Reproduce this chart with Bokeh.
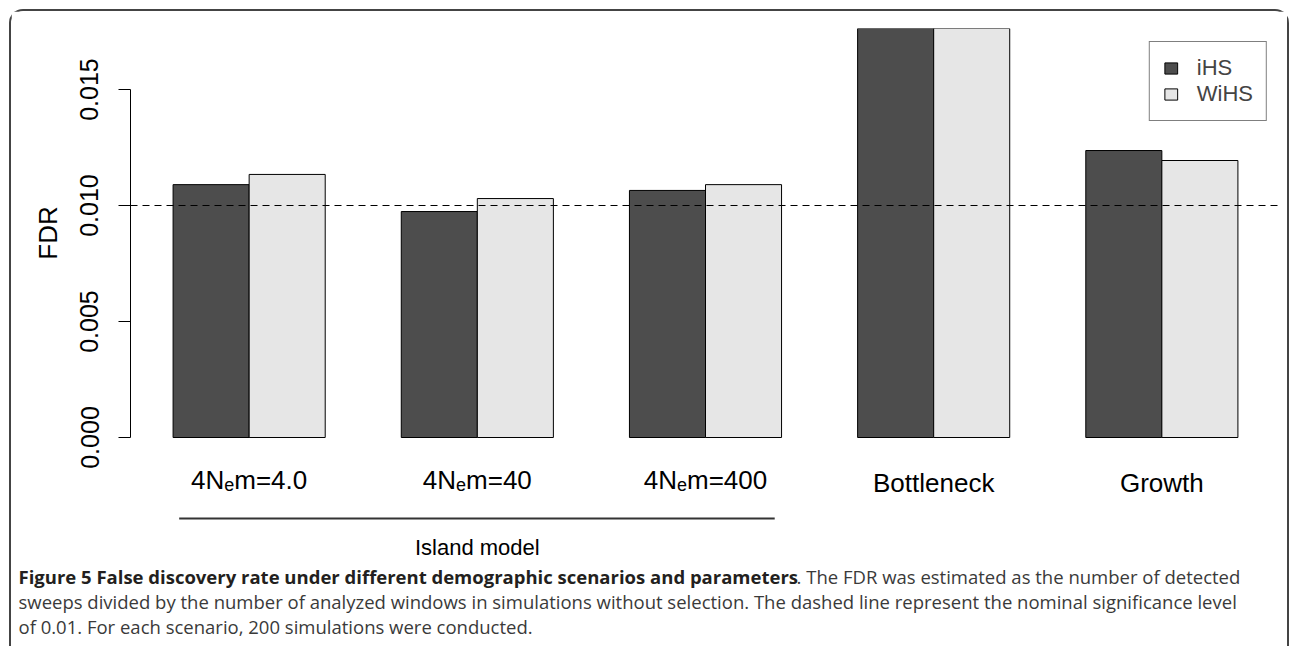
from bokeh.plotting import figure
from bokeh.layouts import column, row
from bokeh.models import (Range1d, FixedTicker, Span, Legend, LegendItem, Title,
                          ColumnDataSource, PrintfTickFormatter)
from bokeh.core.properties import value
from bokeh.embed import file_html
from bokeh.resources import INLINE

# ---------------- data ----------------
scenarios = ["4Nem=4.0", "4Nem=40", "4Nem=400", "Bottleneck", "Growth"]
label_prefix = ["4N", "4N", "4N", "Bottleneck", "Growth"]
label_sub = ["e", "e", "e", "", ""]
label_suffix = ["m=4.0", "m=40", "m=400", "", ""]
ihs = [0.01090, 0.00974, 0.01065, 0.01763, 0.01237]
wihs = [0.01134, 0.01030, 0.01090, 0.01763, 0.01194]
series_names = ["iHS", "WiHS"]
y_ticks = [0.000, 0.005, 0.010, 0.015]
y_title = "FDR"
nominal_level = 0.01
island_groups = 3
group_title = "Island model"
caption_bold = "Figure 5 False discovery rate under different demographic scenarios and parameters"
caption_lines = [
    ". The FDR was estimated as the number of detected",
    "sweeps divided by the number of analyzed windows in simulations without selection. The dashed line represent the nominal significance level",
    "of 0.01. For each scenario, 200 simulations were conducted.",
]

# ---------------- geometry (content origin on the page = 11, 11) ----------------
ORG = 11
W = 1276
PAGE_TOP, PAGE_ZERO, PAGE_SPLIT = 28, 437, 505   # frame top, y=0 line, bottom of main panel
H1 = PAGE_SPLIT - ORG
H2 = 646 - PAGE_SPLIT
L, R, T, B = 119, 7, PAGE_TOP - ORG, 0
FW = W - L - R
FONT = "Liberation Sans"
CAP_FONT = "Open Sans"

n = len(scenarios)
xl, xr = 1.0, 3.0 * n
pad = 0.04 * (xr - xl)
x0, x1 = xl - pad, xr + pad
y1 = max(ihs + wihs)
per_px = y1 / (PAGE_ZERO - PAGE_TOP)
y0 = -(PAGE_SPLIT - PAGE_ZERO) * per_px


def dx(px):
    return x0 + (px - L) / FW * (x1 - x0)


def dy(page_y):
    return -(page_y - PAGE_ZERO) * per_px


centers = [2.0 + 3.0 * i for i in range(n)]
src = ColumnDataSource(dict(
    x1=[c - 0.5 for c in centers], x2=[c + 0.5 for c in centers],
    ihs=ihs, wihs=wihs,
))

# ---------------- main chart ----------------
p = figure(width=W, height=H1, output_backend="svg", toolbar_location=None,
           x_range=Range1d(x0, x1), y_range=Range1d(y0, y1),
           min_border_left=L, min_border_right=R, min_border_top=T, min_border_bottom=B)
p.outline_line_color = None
p.xgrid.visible = False
p.ygrid.visible = False
p.xaxis.visible = False
p.background_fill_color = "white"
p.border_fill_color = "white"

r1 = p.vbar(x="x1", top="ihs", bottom=0, width=1.0, source=src,
            fill_color="#4d4d4d", line_color="black", line_width=1)
r2 = p.vbar(x="x2", top="wihs", bottom=0, width=1.0, source=src,
            fill_color="#e6e6e6", line_color="black", line_width=1)

p.add_layout(Span(location=nominal_level, dimension="width", line_color="black",
                  line_width=1.2, line_dash="7 5"))

ya = p.yaxis[0]
ya.ticker = FixedTicker(ticks=y_ticks)
ya.formatter = PrintfTickFormatter(format="%.3f")
ya.bounds = (min(y_ticks), max(y_ticks))
ya.major_tick_out = 12
ya.major_tick_in = 0
ya.minor_tick_line_color = None
ya.axis_line_color = "black"
ya.major_tick_line_color = "black"
ya.major_label_orientation = "vertical"
ya.major_label_text_font = FONT
ya.major_label_text_font_size = "25px"
ya.major_label_text_color = "black"
ya.major_label_standoff = 20

# y-axis title, centred on the value region (not on the extended frame):
# start of the rotated text measured up from the frame bottom
TITLE_PX = 26
title_len = (0.611 + 0.722 + 0.722) * TITLE_PX
value_mid = (PAGE_TOP + PAGE_ZERO) / 2
title_offset = PAGE_SPLIT - (value_mid + title_len / 2)
p.add_layout(Title(text=y_title, align="left", offset=title_offset,
                   text_font=FONT, text_font_size=f"{TITLE_PX}px", text_font_style="normal",
                   text_color="black", standoff=29), "left")

legend = Legend(items=[LegendItem(label=series_names[0], renderers=[r1]),
                       LegendItem(label=series_names[1], renderers=[r2])],
                location="top_right", margin=13, padding=13, spacing=0,
                glyph_width=16, glyph_height=14, label_standoff=18, label_height=25,
                label_text_font=FONT, label_text_font_size="22px",
                border_line_color="black", border_line_width=1,
                background_fill_color="white", background_fill_alpha=1.0)
p.add_layout(legend)

BASE_FIX = 0.38   # empirical shift of the rendered alphabetic baseline
adv = {'4': .556, 'N': .722, 'm': .833, '=': .584, '.': .278, '0': .556, 'e': .556}
MAIN, SUBS = 26, 18


def tw(s, size):
    return sum(adv.get(ch, .556) for ch in s) * size


def ptxt(x, page_y, s, size, align="left", xoff=0):
    p.text(x=[x], y=[dy(page_y - BASE_FIX * size)], text=[s], x_offset=xoff,
           text_align=align, text_baseline="alphabetic", text_font=value(FONT),
           text_font_size=f"{size}px", text_color="black")


for c, pre, sub, suf in zip(centers, label_prefix, label_sub, label_suffix):
    if sub:
        total = tw(pre, MAIN) + tw(sub, SUBS) + tw(suf, MAIN)
        start = -total / 2
        ptxt(c, 489, pre, MAIN, xoff=start)
        ptxt(c, 494 - BASE_FIX * (MAIN - SUBS), sub, SUBS, xoff=start + tw(pre, MAIN))
        ptxt(c, 489, suf, MAIN, xoff=start + tw(pre, MAIN) + tw(sub, SUBS))
    else:
        ptxt(c, 492, pre, MAIN, align="center")

# ---------------- lower panel: grouping line, group title, caption ----------------
q = figure(width=W, height=H2, output_backend="svg", toolbar_location=None,
           x_range=Range1d(dx(0), dx(W)), y_range=Range1d(H2, 0),
           min_border_left=0, min_border_right=0, min_border_top=0, min_border_bottom=0)
q.axis.visible = False
q.grid.visible = False
q.outline_line_color = None
q.background_fill_color = "white"
q.border_fill_color = "white"
for fig in (p, q):
    if "frame_align" in fig.properties():
        fig.frame_align = False


def qtxt(x, page_y, s, size, align="left", xoff=0, font=FONT, style="normal", color="black"):
    q.text(x=[x], y=[page_y - PAGE_SPLIT - BASE_FIX * size], text=[s], x_offset=xoff,
           text_align=align, text_baseline="alphabetic", text_font=value(font),
           text_font_size=f"{size}px", text_font_style=style, text_color=color)


g_left = centers[0] - 1.0 + 0.08
g_right = centers[island_groups - 1] + 1.0 - 0.09
q.segment(x0=[g_left], x1=[g_right], y0=[518 - PAGE_SPLIT], y1=[518 - PAGE_SPLIT],
          line_color="#333333", line_width=2)
qtxt(centers[(island_groups - 1) // 2], 555, group_title, 22, align="center")

CAP = 18.5
bold_w = 736 / 17.5 * CAP
cap_x = dx(18 - ORG)
qtxt(cap_x, 583, caption_bold, CAP, font=CAP_FONT, style="bold", color="#231f20")
qtxt(cap_x, 583, caption_lines[0], CAP, xoff=bold_w, font=CAP_FONT, color="#3a3a3a")
for k, line in enumerate(caption_lines[1:]):
    qtxt(cap_x, 608 + 25 * k, line, CAP, font=CAP_FONT, color="#3a3a3a")

layout = column(p, row(q), spacing=0,
                styles={"margin-left": "9px", "margin-top": "9px",
                        "border-top": "2px solid #444444", "border-left": "2px solid #444444",
                        "border-right": "2px solid #444444",
                        "border-top-left-radius": "14px", "border-top-right-radius": "14px"})

open("out.html", "w").write(file_html(layout, INLINE))
